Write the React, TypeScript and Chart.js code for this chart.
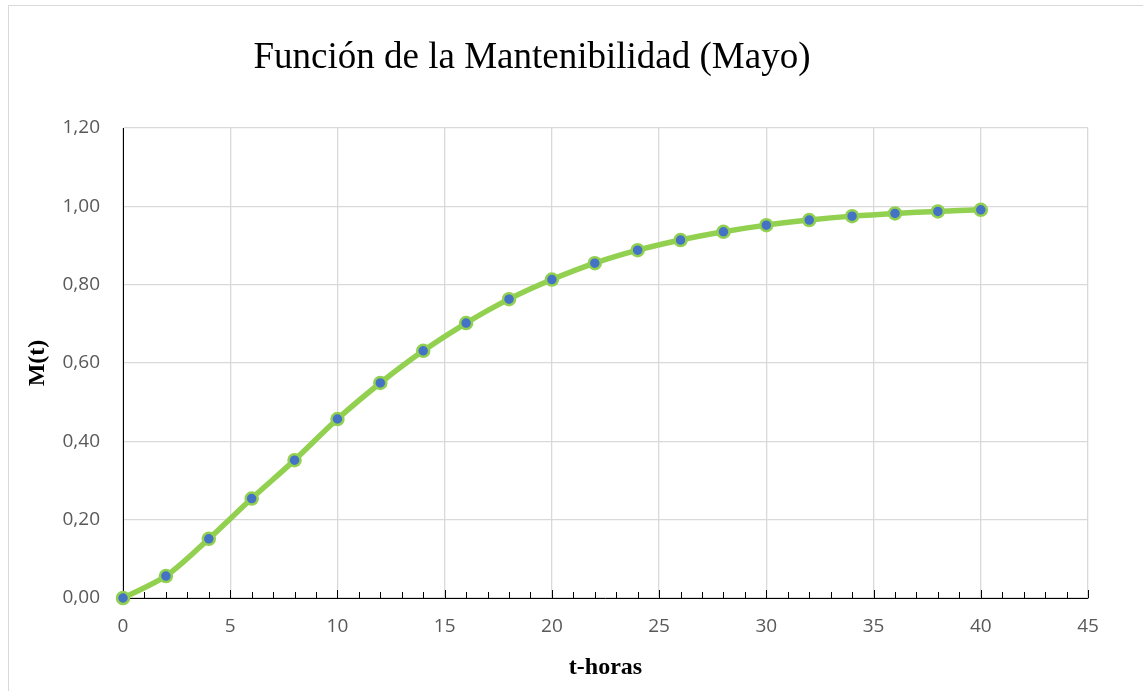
import React, { useEffect, useRef } from "react";
import { Chart, registerables } from "chart.js";

Chart.register(...registerables);

const chartTitle = "Función de la Mantenibilidad (Mayo)";
const xAxisTitle = "t-horas";
const yAxisTitle = "M(t)";
const hours = [0, 2, 4, 6, 8, 10, 12, 14, 16, 18, 20, 22, 24, 26, 28, 30, 32, 34, 36, 38, 40];
const maintainability = [
  0, 0.056, 0.151, 0.254, 0.352, 0.457, 0.549, 0.631, 0.702, 0.763, 0.813,
  0.855, 0.888, 0.914, 0.935, 0.952, 0.965, 0.975, 0.982, 0.987, 0.991,
];

const titlePlugin = {
  id: "customTitle",
  afterDraw(chart: any) {
    const ctx = chart.ctx;
    ctx.save();
    ctx.font = "37px 'Liberation Serif', 'Times New Roman', serif";
    ctx.fillStyle = "#000000";
    ctx.textAlign = "center";
    ctx.textBaseline = "alphabetic";
    ctx.fillText(chartTitle, 523, 62);
    ctx.restore();
  },
};

const innerTicksPlugin = {
  id: "innerTicks",
  beforeDatasetsDraw(chart: any) {
    const ctx = chart.ctx;
    const xs = chart.scales.x;
    const y0 = chart.chartArea.bottom;
    ctx.save();
    ctx.strokeStyle = "#000000";
    ctx.lineWidth = 1;
    for (let v = 0; v <= 45; v += 1) {
      const px = Math.round(xs.getPixelForValue(v)) + 0.5;
      const len = v % 5 === 0 ? 8 : 6;
      ctx.beginPath();
      ctx.moveTo(px, y0);
      ctx.lineTo(px, y0 - len);
      ctx.stroke();
    }
    ctx.restore();
  },
};

export default function App() {
  const ref = useRef<HTMLCanvasElement | null>(null);

  useEffect(() => {
    if (!ref.current) return;
    const chart = new Chart(ref.current, {
      type: "line",
      data: {
        labels: hours,
        datasets: [
          {
            data: hours.map((h, i) => ({ x: h, y: maintainability[i] })),
            borderColor: "#92d050",
            borderWidth: 5.5,
            pointRadius: 6,
            pointBackgroundColor: "#4472c4",
            pointBorderColor: "#92d050",
            pointBorderWidth: 2.5,
            tension: 0.3,
            clip: false as any,
          },
        ],
      },
      options: {
        animation: false,
        responsive: false,
        maintainAspectRatio: false,
        layout: { padding: { left: 0, right: 55, top: 122, bottom: 0 } },
        plugins: {
          legend: { display: false },
          title: { display: false },
          tooltip: { enabled: false },
        },
        scales: {
          x: {
            type: "linear",
            min: 0,
            max: 45,
            ticks: {
              stepSize: 5,
              padding: 17,
              color: "#595959",
              font: { family: "'Open Sans', sans-serif", size: 19 },
            },
            grid: { color: "#d9d9d9", lineWidth: 1.3, drawTicks: false },
            border: { color: "#000000", width: 1 },
            title: {
              display: true,
              text: xAxisTitle,
              color: "#000000",
              font: { family: "'Liberation Serif', serif", size: 24, weight: "bold" },
              padding: { top: 0, bottom: 9 },
            },
            afterFit(scale: any) {
              scale.height = 93;
            },
          },
          y: {
            min: 0,
            max: 1.2,
            ticks: {
              stepSize: 0.2,
              padding: 23,
              color: "#595959",
              font: { family: "'Open Sans', sans-serif", size: 19 },
              callback: (v: any) => Number(v).toFixed(2).replace(".", ","),
            },
            grid: { color: "#d9d9d9", lineWidth: 1.3, drawTicks: false },
            border: { color: "#000000", width: 1 },
            title: {
              display: true,
              text: yAxisTitle,
              color: "#000000",
              font: { family: "'Liberation Serif', serif", size: 24, weight: "bold" },
              padding: { top: 14, bottom: 0 },
            },
            afterFit(scale: any) {
              scale.width = 114;
            },
          },
        },
      } as any,
      plugins: [innerTicksPlugin, titlePlugin],
    });
    return () => chart.destroy();
  }, []);

  return (
    <div
      style={{
        position: "fixed",
        left: 8,
        top: 5,
        width: 1134,
        height: 685,
        borderTop: "1px solid #d9d9d9",
        borderLeft: "1px solid #d9d9d9",
        background: "#ffffff",
        overflow: "hidden",
      }}
    >
      <canvas ref={ref} width={1134} height={685} style={{ display: "block" }} />
    </div>
  );
}
